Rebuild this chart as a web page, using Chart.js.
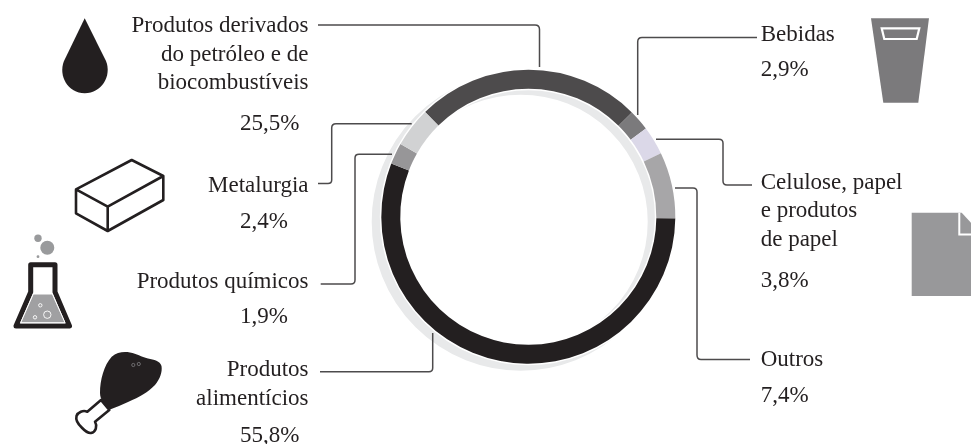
<!DOCTYPE html>
<html lang="pt">
<head>
<meta charset="utf-8">
<title>Indústria de transformação</title>
<script src="https://cdn.jsdelivr.net/npm/chart.js@4/dist/chart.umd.min.js"></script>
<style>
  html, body { margin: 0; padding: 0; background: #fff; }
  #stage { position: relative; width: 971px; height: 444px; overflow: hidden; }
  #ring { position: absolute; left: 0; top: 0; }
  #overlay { position: absolute; left: 0; top: 0; }
  #overlay text { font-family: "Liberation Serif", serif; font-size: 23px; fill: #231f20; }
</style>
</head>
<body>
<div id="stage">
  <canvas id="ring" width="971" height="444"></canvas>
  <svg id="overlay" width="971" height="444" viewBox="0 0 971 444" xmlns="http://www.w3.org/2000/svg">
    <g id="leaders" fill="none" stroke="#4d4b4c" stroke-width="1.5">
      <path d="M318 25 H535 Q539.5 25 539.5 29.5 V67"/>
      <path d="M757 37.5 H642 Q637.7 37.5 637.7 42 V115"/>
      <path d="M656 139.3 H719 Q723 139.3 723 143.3 V181 Q723 185 727 185 H752"/>
      <path d="M675 188 H693 Q697 188 697 192 V355 Q697 359.5 701 359.5 H750"/>
      <path d="M318 183.5 H328 Q331.7 183.5 331.7 180 V128 Q331.7 123.7 336 123.7 H411.7"/>
      <path d="M320.7 284 H351 Q355 284 355 280 V158 Q355 154.3 359 154.3 H392"/>
      <path d="M320 371.7 H429 Q432.7 371.7 432.7 368 V333"/>
    </g>
    <g id="icons">
      <!-- gota -->
      <path fill="#231f20" d="M84.7 18.3 L64 61 C58 76 68 93.3 84.7 93.3 C101.5 93.3 112 76 106 61 Z"/>
      <!-- tijolo -->
      <path fill="none" stroke="#231f20" stroke-width="2.6" stroke-linejoin="round" d="M76 189.3 L131.7 160 L163.3 176 L107.7 206.7 Z M76 189.3 V213.3 L107.7 231 L163.3 200 V176 M107.7 206.7 V231"/>
      <!-- frasco -->
      <circle cx="47.3" cy="247.7" r="7" fill="#999a9c"/>
      <circle cx="38" cy="238.3" r="3.7" fill="#999a9c"/>
      <circle cx="38" cy="256.7" r="1.4" fill="#999a9c"/>
      <path fill="none" stroke="#231f20" stroke-width="5" stroke-linejoin="round" d="M30.7 264.7 H55 V292 L69.5 326 H16 L30.7 292 Z"/>
      <path fill="#a0a0a2" stroke="#fff" stroke-width="1" d="M33.3 294 H52.3 L65 322.7 H20.7 Z"/>
      <g fill="none" stroke="#fff" stroke-width="0.9">
        <circle cx="47.3" cy="314.7" r="3.7"/>
        <circle cx="40.3" cy="305.3" r="1.7"/>
        <circle cx="35" cy="317.3" r="1.7"/>
      </g>
      <!-- coxa de frango -->
      <path fill="#fff" stroke="#231f20" stroke-width="2.6" stroke-linejoin="round" d="M101 400 L87.3 411.7 C83 410 78 412 76.5 416 C75.5 420 78 424 81.7 427.5 C85 431 88 433.5 91 433 C96 432 97.5 426 95 421.7 L109.3 410 Z"/>
      <path fill="#231f20" d="M100 393 C100 380 104 365 111.7 356.7 C117 352 124 351.5 130 352.5 C137 353.5 141 357 148 358.5 C154 359.5 160 361 161.5 366 C162.5 372 160 379 155 385 C148 392 140 397 128 402 C122 405 116 407 110 409.5 C105 405 100 400 100 393 Z"/>
      <g fill="none" stroke="#8a8a8c" stroke-width="0.7">
        <circle cx="133.3" cy="365" r="1.6"/>
        <circle cx="138.8" cy="364" r="1.6"/>
      </g>
      <!-- copo -->
      <path fill="#7b7a7c" d="M871 18.3 H929 L918.3 102.7 H883.3 Z"/>
      <path fill="none" stroke="#fff" stroke-width="2.2" d="M881.7 28.3 H919.3 L916.7 39 H884.3 Z"/>
      <!-- folha -->
      <path fill="#98989a" d="M911.7 212.7 H961.7 L973 225 V296 H911.7 Z"/>
      <path fill="none" stroke="#fff" stroke-width="2" d="M959.3 212.7 V234.5 H973"/>
    </g>
    <g id="labels"></g>
  </svg>
</div>
<script>
// Setores da indústria, do anel em sentido horário a partir de "derivados do petróleo"
var categories = [
  'Produtos derivados do petróleo e de biocombustíveis',
  'Bebidas',
  'Celulose, papel e produtos de papel',
  'Outros',
  'Produtos alimentícios',
  'Produtos químicos',
  'Metalurgia'
];

// percentuais impressos
var shareLabels = ['25,5%', '2,9%', '3,8%', '7,4%', '55,8%', '1,9%', '2,4%'];

// largura de cada arco como aparece na figura, em graus
// (o original não segue exatamente os percentuais impressos)
var arcDegrees = [89.4, 8.3, 11.3, 26.3, 200.5, 8.4, 15.8];

var sliceColors = ['#4d4b4c', '#7b7a7c', '#dbd8e8', '#a7a6a8', '#231f20', '#979698', '#d1d2d3'];

// quebras de linha dos nomes
var nameLines = [
  ['Produtos derivados', 'do petróleo e de', 'biocombustíveis'],
  ['Bebidas'],
  ['Celulose, papel', 'e produtos', 'de papel'],
  ['Outros'],
  ['Produtos', 'alimentícios'],
  ['Produtos químicos'],
  ['Metalurgia']
];

// anel claro deslocado atrás do anel principal
var backRing = {
  id: 'backRing',
  beforeDatasetsDraw: function (chart) {
    var arc = chart.getDatasetMeta(0).data[0];
    var ctx = chart.ctx;
    ctx.save();
    ctx.beginPath();
    ctx.arc(arc.x - 7.6, arc.y + 5, 138, 0, Math.PI * 2);
    ctx.lineWidth = 22;
    ctx.strokeStyle = '#e8e9ea';
    ctx.stroke();
    // filete branco em volta do anel principal
    ctx.beginPath();
    ctx.arc(arc.x, arc.y, (arc.outerRadius + arc.innerRadius) / 2, 0, Math.PI * 2);
    ctx.lineWidth = arc.outerRadius - arc.innerRadius + 3;
    ctx.strokeStyle = '#fff';
    ctx.stroke();
    ctx.restore();
  }
};

function renderRing() {
  var ctx = document.getElementById('ring').getContext('2d');
  var config = {
    type: 'doughnut',
    data: {
      labels: categories,
      datasets: [{ data: arcDegrees, backgroundColor: sliceColors, borderWidth: 0 }]
    },
    options: {
      responsive: false,
      animation: false,
      events: [],
      rotation: -44.6,
      cutout: '87.1%',
      layout: { padding: { left: 381.3, right: 295.7, top: 69.7, bottom: 80.3 } },
      plugins: { legend: { display: false }, tooltip: { enabled: false } }
    },
    plugins: [backRing]
  };
  return new Chart(ctx, config);
}

function addText(x, y, str, anchor) {
  var el = document.createElementNS('http://www.w3.org/2000/svg', 'text');
  el.setAttribute('x', x);
  el.setAttribute('y', y);
  el.setAttribute('text-anchor', anchor);
  el.textContent = str;
  document.getElementById('labels').appendChild(el);
}

function renderLabels() {
  // baselines, uma por linha de cada rótulo
  var nameY = [[32, 60.7, 89], [40.7], [189, 217, 246], [366], [376, 405], [288], [192]];
  var shareY = [130, 76, 286.7, 402, 442, 322.7, 228];
  var rightSide = [false, true, true, true, false, false, false];

  for (var i = 0; i < categories.length; i++) {
    for (var j = 0; j < nameLines[i].length; j++) {
      if (rightSide[i]) addText(760.7, nameY[i][j], nameLines[i][j], 'start');
      else addText(308.5, nameY[i][j], nameLines[i][j], 'end');
    }
    addText(rightSide[i] ? 760.7 : 240, shareY[i], shareLabels[i], 'start');
  }
}

renderRing();
renderLabels();
</script>
</body>
</html>
